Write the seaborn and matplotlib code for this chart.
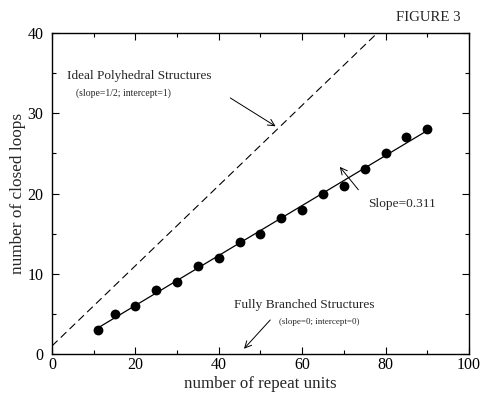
import matplotlib
matplotlib.use("Agg")
import matplotlib.pyplot as plt
import seaborn as sns
import numpy as np
import pandas as pd
from matplotlib.ticker import MultipleLocator

repeat_units = [11, 15, 20, 25, 30, 35, 40, 45, 50, 55, 60, 65, 70, 75, 80, 85, 90]
closed_loops = [3, 5, 6, 8, 9, 11, 12, 14, 15, 17, 18, 20, 21, 23, 25, 27, 28]
ideal_x = [0, 78]
ideal_y = [1, 40]

sns.set_theme(style="ticks")
plt.rcParams['font.family'] = ['Liberation Serif', 'DejaVu Serif']

df = pd.DataFrame({"x": repeat_units, "y": closed_loops})

fig = plt.figure(figsize=(4.81, 3.94), dpi=100)
ax = fig.add_axes([0.108, 0.1015, 0.867, 0.8145])

sns.regplot(data=df, x="x", y="y", ci=None, ax=ax,
            scatter_kws=dict(s=50, color="black", edgecolor="black", alpha=1, zorder=3, linewidths=0),
            line_kws=dict(color="black", lw=0.9))
ax.plot(ideal_x, ideal_y, color="black", lw=0.8, ls=(0, (7, 4)))

ax.set_xlim(0, 100)
ax.set_ylim(0, 40)
ax.xaxis.set_major_locator(MultipleLocator(20))
ax.xaxis.set_minor_locator(MultipleLocator(10))
ax.yaxis.set_major_locator(MultipleLocator(10))
ax.yaxis.set_minor_locator(MultipleLocator(5))
ax.tick_params(which="both", direction="in", top=True, right=True, labelsize=11.5, colors="black", width=0.8)
ax.tick_params(which="major", length=5)
ax.tick_params(which="minor", length=3)
ax.tick_params(axis="x", pad=2)
ax.tick_params(axis="y", pad=6)
for s in ax.spines.values():
    s.set_color("black")
    s.set_linewidth(1.0)

ax.set_xlabel("number of repeat units", fontsize=12.2, labelpad=2)
ax.set_ylabel("number of closed loops", fontsize=12.4, labelpad=1)

ax.text(3.6, 34.6, "Ideal Polyhedral Structures", fontsize=9.5, va="center", ha="left")
ax.text(5.8, 32.5, "(slope=1/2; intercept=1)", fontsize=7, va="center", ha="left")
ax.annotate("", xy=(54.2, 28.2), xytext=(42.2, 32.1),
            arrowprops=dict(arrowstyle="->", color="black", lw=0.7))

ax.text(75.8, 18.7, "Slope=0.311", fontsize=9.6, va="center", ha="left")
ax.annotate("", xy=(68.6, 23.6), xytext=(73.9, 20.2),
            arrowprops=dict(arrowstyle="->", color="black", lw=0.7))

ax.text(43.6, 6.1, "Fully Branched Structures", fontsize=9.6, va="center", ha="left")
ax.text(54.4, 4.0, "(slope=0; intercept=0)", fontsize=6.5, va="center", ha="left")
ax.annotate("", xy=(45.6, 0.4), xytext=(52.8, 4.5),
            arrowprops=dict(arrowstyle="->", color="black", lw=0.7))

fig.text(0.957, 0.955, "FIGURE 3", fontsize=10.7, ha="right", va="center")

fig.savefig("out.png", dpi=100)
